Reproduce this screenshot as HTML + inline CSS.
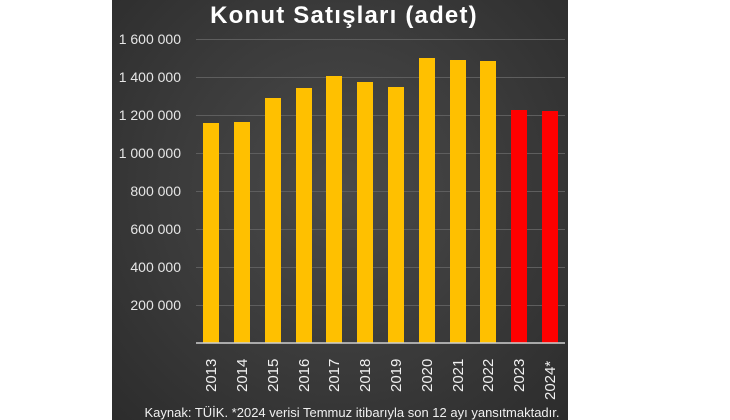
<!DOCTYPE html>
<html><head><meta charset="utf-8"><style>
body{margin:0;width:730px;height:420px;background:#fff;overflow:hidden;font-family:"Liberation Sans",sans-serif;}
#p{position:absolute;left:112px;top:0;width:456px;height:420px;background:radial-gradient(ellipse at 50% 45%,#4a4a4a 0%,#3a3a3a 55%,#2c2c2c 100%);}
</style></head><body>
<div id="p"></div>
<svg width="730" height="420" style="position:absolute;left:0;top:0" font-family="Liberation Sans, sans-serif">
<text x="344" y="23" fill="#fff" font-size="24" font-weight="bold" letter-spacing="1.2" text-anchor="middle">Konut Satışları (adet)</text>
<g stroke="#5e5e5e" stroke-width="1">
<line x1="196" x2="565" y1="39.5" y2="39.5"/><line x1="196" x2="565" y1="77.5" y2="77.5"/><line x1="196" x2="565" y1="115.5" y2="115.5"/><line x1="196" x2="565" y1="153.5" y2="153.5"/><line x1="196" x2="565" y1="191.5" y2="191.5"/><line x1="196" x2="565" y1="229.5" y2="229.5"/><line x1="196" x2="565" y1="267.5" y2="267.5"/><line x1="196" x2="565" y1="305.5" y2="305.5"/>
</g>
<g fill="#e6e6e6" font-size="14" text-anchor="end">
<text x="181" y="44">1 600 000</text><text x="181" y="82">1 400 000</text><text x="181" y="120">1 200 000</text><text x="181" y="158">1 000 000</text><text x="181" y="196">800 000</text><text x="181" y="234">600 000</text><text x="181" y="272">400 000</text><text x="181" y="310">200 000</text>
</g>
<g fill="#ffc000">
<rect x="203" y="123" width="16" height="220"/><rect x="234" y="122" width="16" height="221"/><rect x="265" y="98" width="16" height="245"/><rect x="296" y="88" width="16" height="255"/><rect x="326" y="76" width="16" height="267"/><rect x="357" y="82" width="16" height="261"/><rect x="388" y="87" width="16" height="256"/><rect x="419" y="58" width="16" height="285"/><rect x="450" y="60" width="16" height="283"/><rect x="480" y="61" width="16" height="282"/>
</g>
<g fill="#ff0000"><rect x="511" y="110" width="16" height="233"/><rect x="542" y="111" width="16" height="232"/></g>
<line x1="196" x2="565" y1="343" y2="343" stroke="#cfcfcf" stroke-width="1.5"/>
<g fill="#f0f0f0" font-size="15">
<text transform="translate(216,392) rotate(-90)">2013</text><text transform="translate(247,392) rotate(-90)">2014</text><text transform="translate(278,392) rotate(-90)">2015</text><text transform="translate(309,392) rotate(-90)">2016</text><text transform="translate(339,392) rotate(-90)">2017</text><text transform="translate(370,392) rotate(-90)">2018</text><text transform="translate(401,392) rotate(-90)">2019</text><text transform="translate(432,392) rotate(-90)">2020</text><text transform="translate(463,392) rotate(-90)">2021</text><text transform="translate(493,392) rotate(-90)">2022</text><text transform="translate(524,392) rotate(-90)">2023</text><text transform="translate(555,400) rotate(-90)">2024*</text>
</g>
<text x="352" y="417" fill="#f0f0f0" font-size="13" text-anchor="middle">Kaynak: TÜİK. *2024 verisi Temmuz itibarıyla son 12 ayı yansıtmaktadır.</text>
</svg>
</body></html>
